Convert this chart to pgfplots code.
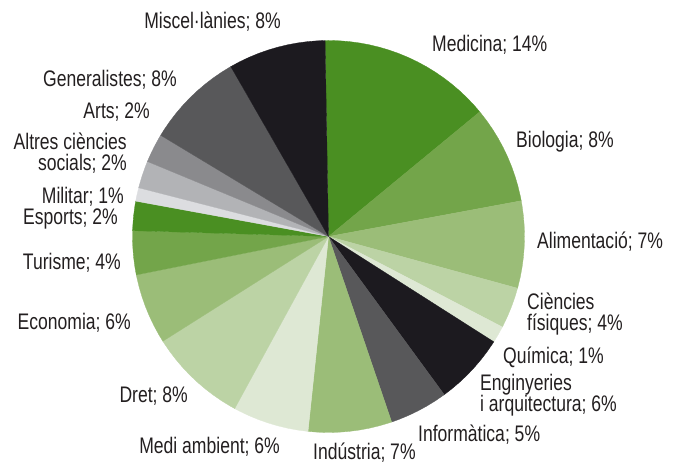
\documentclass[border=0pt]{standalone}
\usepackage{pgfplots}
\pgfplotsset{compat=1.18}
\usepackage{fontspec}
\setmainfont{Liberation Sans}[FakeStretch=0.78]
\definecolor{g1}{HTML}{4A8F22}
\definecolor{g2}{HTML}{73A54A}
\definecolor{g3}{HTML}{9BBD78}
\definecolor{g4}{HTML}{BCD3A5}
\definecolor{g5}{HTML}{DEE8D4}
\definecolor{k1}{HTML}{1C1A1F}
\definecolor{k2}{HTML}{58585A}
\definecolor{k3}{HTML}{8A8A8D}
\definecolor{k4}{HTML}{B2B3B6}
\definecolor{k5}{HTML}{DCDDE0}
\definecolor{txt}{HTML}{231F20}
\tikzset{lbl/.style={font=\fontsize{22.5}{21.5}\selectfont, text=txt, inner sep=0pt}}
\begin{document}
\begin{tikzpicture}
\begin{axis}[hide axis, x=1pt, y=1pt, scale only axis,
  xmin=-328.5, xmax=351.5, ymin=-228.5, ymax=236.5, clip=false,
  every axis plot/.append style={line width=0.3pt}]
\path[draw=none] (rel axis cs:0,0) rectangle (rel axis cs:1,1);
% Medicina
\addplot[data cs=polar, fill=g1, draw=g1] coordinates {(0,0) (39.5,196) (42,196) (45,196) (48,196) (51,196) (54,196) (57,196) (60,196) (63,196) (66,196) (69,196) (72,196) (75,196) (78,196) (81,196) (84,196) (87,196) (90,196) (91,196) (0,0)};
% Biologia
\addplot[data cs=polar, fill=g2, draw=g2] coordinates {(0,0) (10.5,196) (12,196) (15,196) (18,196) (21,196) (24,196) (27,196) (30,196) (33,196) (36,196) (39,196) (39.5,196) (0,0)};
% Alimentacio
\addplot[data cs=polar, fill=g3, draw=g3] coordinates {(0,0) (-15.3,196) (-15,196) (-12,196) (-9,196) (-6,196) (-3,196) (0,196) (3,196) (6,196) (9,196) (10.5,196) (0,0)};
% Ciencies fisiques
\addplot[data cs=polar, fill=g4, draw=g4] coordinates {(0,0) (-27.5,196) (-27,196) (-24,196) (-21,196) (-18,196) (-15.3,196) (0,0)};
% Quimica
\addplot[data cs=polar, fill=g5, draw=g5] coordinates {(0,0) (-32.5,196) (-30,196) (-27.5,196) (0,0)};
% Enginyeries
\addplot[data cs=polar, fill=k1, draw=k1] coordinates {(0,0) (-53.8,196) (-51,196) (-48,196) (-45,196) (-42,196) (-39,196) (-36,196) (-33,196) (-32.5,196) (0,0)};
% Informatica
\addplot[data cs=polar, fill=k2, draw=k2] coordinates {(0,0) (-71.2,196) (-69,196) (-66,196) (-63,196) (-60,196) (-57,196) (-54,196) (-53.8,196) (0,0)};
% Industria
\addplot[data cs=polar, fill=g3, draw=g3] coordinates {(0,0) (-96,196) (-93,196) (-90,196) (-87,196) (-84,196) (-81,196) (-78,196) (-75,196) (-72,196) (-71.2,196) (0,0)};
% Medi ambient
\addplot[data cs=polar, fill=g5, draw=g5] coordinates {(0,0) (-118.6,196) (-117,196) (-114,196) (-111,196) (-108,196) (-105,196) (-102,196) (-99,196) (-96,196) (0,0)};
% Dret
\addplot[data cs=polar, fill=g4, draw=g4] coordinates {(0,0) (-147.7,196) (-147,196) (-144,196) (-141,196) (-138,196) (-135,196) (-132,196) (-129,196) (-126,196) (-123,196) (-120,196) (-118.6,196) (0,0)};
% Economia
\addplot[data cs=polar, fill=g3, draw=g3] coordinates {(0,0) (-168.7,196) (-168,196) (-165,196) (-162,196) (-159,196) (-156,196) (-153,196) (-150,196) (-147.7,196) (0,0)};
% Turisme
\addplot[data cs=polar, fill=g2, draw=g2] coordinates {(0,0) (-181.7,196) (-180,196) (-177,196) (-174,196) (-171,196) (-168.7,196) (0,0)};
% Esports
\addplot[data cs=polar, fill=g1, draw=g1] coordinates {(0,0) (-190.4,196) (-189,196) (-186,196) (-183,196) (-181.7,196) (0,0)};
% Militar
\addplot[data cs=polar, fill=k5, draw=k5] coordinates {(0,0) (-194.4,196) (-192,196) (-190.4,196) (0,0)};
% Altres ciencies socials
\addplot[data cs=polar, fill=k4, draw=k4] coordinates {(0,0) (-202.5,196) (-201,196) (-198,196) (-195,196) (-194.4,196) (0,0)};
% Arts
\addplot[data cs=polar, fill=k3, draw=k3] coordinates {(0,0) (-211.1,196) (-210,196) (-207,196) (-204,196) (-202.5,196) (0,0)};
% Generalistes
\addplot[data cs=polar, fill=k2, draw=k2] coordinates {(0,0) (-240.1,196) (-240,196) (-237,196) (-234,196) (-231,196) (-228,196) (-225,196) (-222,196) (-219,196) (-216,196) (-213,196) (-211.1,196) (0,0)};
% Miscellanies
\addplot[data cs=polar, fill=k1, draw=k1] coordinates {(0,0) (-269,196) (-267,196) (-264,196) (-261,196) (-258,196) (-255,196) (-252,196) (-249,196) (-246,196) (-243,196) (-240.1,196) (0,0)};

\node[lbl, anchor=east] at (axis cs:-47.5,214.5) {Miscel·lànies; 8\%};
\node[lbl, anchor=west] at (axis cs:103.5,191.5) {Medicina; 14\%};
\node[lbl, anchor=west] at (axis cs:187.5,94.5) {Biologia; 8\%};
\node[lbl, anchor=west] at (axis cs:208.5,-5.5) {Alimentació; 7\%};
\node[lbl, anchor=west, align=left] at (axis cs:198.5,-77.5) {Ciències\\físiques; 4\%};
\node[lbl, anchor=west] at (axis cs:174.5,-120.5) {Química; 1\%};
\node[lbl, anchor=west, align=left] at (axis cs:151.5,-158.5) {Enginyeries\\i arquitectura; 6\%};
\node[lbl, anchor=west] at (axis cs:89.5,-198.5) {Informàtica; 5\%};
\node[lbl, anchor=west] at (axis cs:-15.5,-216.5) {Indústria; 7\%};
\node[lbl, anchor=east] at (axis cs:-48.5,-210.5) {Medi ambient; 6\%};
\node[lbl, anchor=east] at (axis cs:-140.5,-159.5) {Dret; 8\%};
\node[lbl, anchor=east] at (axis cs:-197.5,-86.5) {Economia; 6\%};
\node[lbl, anchor=east] at (axis cs:-207.5,-26.5) {Turisme; 4\%};
\node[lbl, anchor=east] at (axis cs:-210.5,17.5) {Esports; 2\%};
\node[lbl, anchor=east] at (axis cs:-204.5,39.5) {Militar; 1\%};
\node[lbl, anchor=east, align=right] at (axis cs:-201.5,83.5) {Altres ciències\\socials; 2\%};
\node[lbl, anchor=east] at (axis cs:-178.5,124.5) {Arts; 2\%};
\node[lbl, anchor=east] at (axis cs:-151.5,156.5) {Generalistes; 8\%};
\end{axis}
\end{tikzpicture}
\end{document}
